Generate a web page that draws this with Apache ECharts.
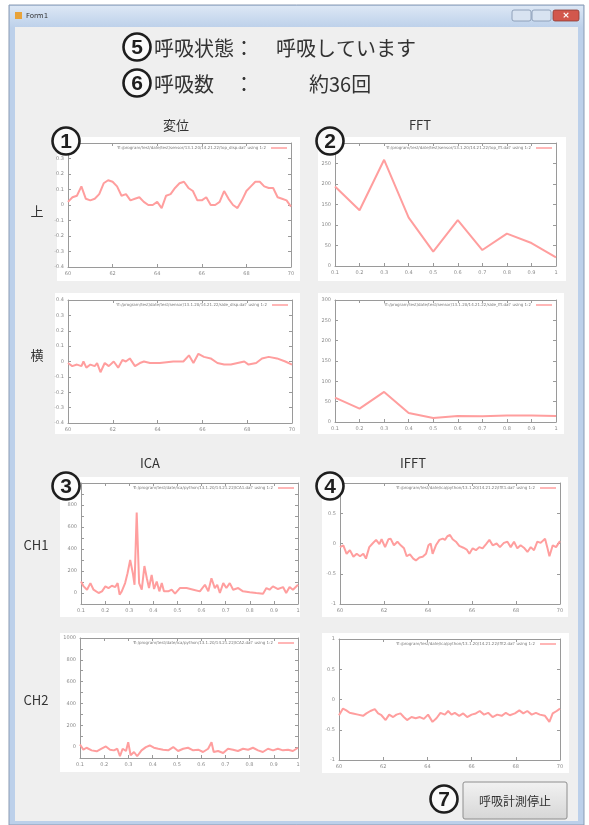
<!DOCTYPE html>
<html>
<head>
<meta charset="utf-8">
<script src="https://cdn.jsdelivr.net/npm/echarts@6/dist/echarts.min.js"></script>
<style>
	html, body { margin: 0; padding: 0; background: #fff; }
	#main { width: 589px; height: 825px; }
</style>
</head>
<body>
<div id="main"></div>
<script>
// 变位 上 (time, displacement)
const up_disp = [
	[60.0, 0.02], [60.2, 0.05], [60.4, 0.06], [60.6, 0.12], [60.8, 0.04], [61.0, 0.03], [61.2, 0.04], [61.4, 0.07],
	[61.6, 0.14], [61.8, 0.16], [62.0, 0.15], [62.2, 0.12], [62.4, 0.06], [62.6, 0.07], [62.8, 0.03], [63.0, 0.04],
	[63.2, 0.05], [63.4, 0.02], [63.6, 0.0], [63.8, 0.0], [64.0, 0.02], [64.2, -0.02], [64.4, 0.06], [64.6, 0.07],
	[64.8, 0.11], [65.0, 0.14], [65.2, 0.15], [65.4, 0.11], [65.6, 0.09], [65.8, 0.03], [66.0, 0.03], [66.2, 0.05],
	[66.4, 0.0], [66.6, 0.0], [66.8, 0.02], [67.0, 0.09], [67.2, 0.04], [67.4, 0.0], [67.6, -0.02], [67.8, 0.03],
	[68.0, 0.09], [68.2, 0.12], [68.4, 0.15], [68.6, 0.15], [68.8, 0.12], [69.0, 0.11], [69.2, 0.11], [69.4, 0.05],
	[69.6, 0.04], [69.8, 0.03], [70.0, -0.01],
];
// 变位 横
const side_disp = [
	[60.0, -0.01], [60.19, -0.03], [60.4, -0.02], [60.6, -0.03], [60.69, 0.0], [60.82, -0.04], [61.0, -0.02],
	[61.19, -0.03], [61.3, -0.01], [61.45, -0.07], [61.64, -0.01], [61.82, -0.03], [62.04, 0.0], [62.24, -0.04],
	[62.43, 0.01], [62.58, 0.0], [62.76, 0.02], [62.99, -0.03], [63.21, -0.01], [63.39, 0.0], [63.66, -0.01],
	[64.1, -0.01], [64.7, 0.0], [65.15, 0.0], [65.4, 0.04], [65.6, -0.01], [65.82, 0.05], [66.07, 0.03],
	[66.37, 0.02], [66.67, -0.01], [66.97, -0.02], [67.27, -0.02], [67.57, -0.01], [67.87, 0.0], [68.06, -0.02],
	[68.4, -0.01], [68.66, 0.02], [68.96, 0.03], [69.33, 0.02], [69.7, 0.0], [70.0, -0.02],
];
// FFT
const fft_freq = [0.1, 0.2, 0.3, 0.4, 0.5, 0.6, 0.7, 0.8, 0.9, 1.0];
const fft_up = [194, 136, 259, 118, 35, 112, 39, 79, 56, 21];
const fft_side = [60, 33, 74, 22, 10, 15, 14, 16, 16, 15];
// ICA CH1 / CH2
const ica_ch1 = [
	[0.1, 104], [0.111, 60], [0.125, 30], [0.139, 90], [0.152, 30], [0.173, 0], [0.187, 15], [0.201, 60],
	[0.214, 45], [0.228, 66], [0.242, 54], [0.252, 90], [0.26, -15], [0.269, 15], [0.283, 90], [0.293, 180],
	[0.304, 300], [0.315, 180], [0.322, 75], [0.331, 731], [0.341, 90], [0.352, 30], [0.363, 245], [0.373, 134],
	[0.382, 45], [0.393, 164], [0.403, 36], [0.414, 104], [0.425, 15], [0.435, 90], [0.444, 15], [0.462, 15],
	[0.476, 30], [0.49, -6], [0.51, 45], [0.538, 45], [0.566, 30], [0.593, 15], [0.614, 75], [0.628, 15],
	[0.641, 134], [0.655, 45], [0.665, 75], [0.676, 0], [0.69, 90], [0.703, 45], [0.717, 90], [0.731, 30],
	[0.752, 45], [0.772, 15], [0.8, 6], [0.827, 0], [0.855, -6], [0.869, 45], [0.882, 30], [0.896, 60],
	[0.917, 36], [0.938, 54], [0.951, 0], [0.965, 54], [0.979, 30], [1.0, 75],
];
const ica_ch2 = [
	[0.1, 24], [0.114, -24], [0.127, -6], [0.148, -30], [0.169, -39], [0.189, -15], [0.207, 6], [0.224, -24],
	[0.24, -30], [0.254, -15], [0.265, -84], [0.276, -15], [0.29, -36], [0.299, 45], [0.309, -75], [0.323, -45],
	[0.336, -84], [0.354, -30], [0.372, 0], [0.388, 15], [0.405, -6], [0.423, -15], [0.443, -24], [0.464, -30],
	[0.485, 0], [0.505, -36], [0.526, -15], [0.546, -6], [0.567, -30], [0.588, -24], [0.608, -45], [0.629, -15],
	[0.643, 45], [0.652, -45], [0.67, -36], [0.691, -54], [0.711, -15], [0.732, -24], [0.752, -36], [0.773, -15],
	[0.794, -24], [0.814, -6], [0.835, -30], [0.855, -45], [0.876, -15], [0.897, -30], [0.917, -15], [0.938, -30],
	[0.959, -24], [0.979, -36], [1.0, -6],
];
// IFFT CH1 / CH2
const ifft_ch1 = [
	[60.0, -0.06], [60.15, -0.03], [60.3, -0.17], [60.45, -0.11], [60.61, -0.22], [60.76, -0.17], [60.91, -0.21],
	[61.06, -0.17], [61.18, -0.25], [61.33, -0.06], [61.48, 0.0], [61.64, 0.06], [61.79, -0.01], [61.89, 0.07],
	[62.05, -0.06], [62.2, 0.07], [62.3, 0.08], [62.45, -0.03], [62.61, 0.03], [62.76, -0.03], [62.91, -0.08],
	[63.03, -0.21], [63.18, -0.18], [63.33, -0.25], [63.45, -0.28], [63.61, -0.23], [63.76, -0.22], [63.91, -0.17],
	[64.02, -0.03], [64.12, 0.0], [64.21, -0.17], [64.36, -0.03], [64.52, 0.06], [64.67, 0.08], [64.77, 0.06],
	[64.88, 0.12], [65.0, 0.14], [65.12, 0.07], [65.27, 0.03], [65.42, -0.04], [65.61, -0.07], [65.76, -0.1],
	[65.88, -0.17], [66.03, -0.08], [66.18, -0.11], [66.33, -0.06], [66.48, -0.08], [66.64, -0.01], [66.79, 0.06],
	[66.94, -0.03], [67.12, 0.0], [67.27, -0.06], [67.45, 0.01], [67.61, 0.03], [67.76, -0.06], [67.91, 0.03],
	[68.06, -0.08], [68.21, -0.03], [68.36, -0.07], [68.52, -0.14], [68.67, -0.06], [68.82, -0.11], [68.97, 0.03],
	[69.12, 0.01], [69.32, 0.08], [69.42, -0.06], [69.52, -0.21], [69.67, -0.03], [69.82, -0.06], [70.0, 0.04],
];
const ifft_ch2 = [
	[60.0, -0.26], [60.18, -0.15], [60.33, -0.18], [60.48, -0.22], [60.63, -0.23], [60.86, -0.25], [61.09, -0.27],
	[61.24, -0.23], [61.42, -0.19], [61.62, -0.16], [61.77, -0.23], [61.92, -0.26], [62.11, -0.34], [62.27, -0.25],
	[62.45, -0.29], [62.6, -0.25], [62.78, -0.23], [62.93, -0.29], [63.08, -0.34], [63.28, -0.29], [63.47, -0.31],
	[63.66, -0.29], [63.84, -0.32], [64.03, -0.25], [64.23, -0.37], [64.41, -0.31], [64.59, -0.22], [64.79, -0.25],
	[64.94, -0.19], [65.09, -0.25], [65.24, -0.22], [65.44, -0.27], [65.62, -0.23], [65.8, -0.29], [66.0, -0.25],
	[66.19, -0.23], [66.37, -0.19], [66.56, -0.25], [66.75, -0.22], [66.95, -0.29], [67.16, -0.25], [67.36, -0.27],
	[67.55, -0.22], [67.73, -0.26], [67.96, -0.23], [68.16, -0.18], [68.34, -0.23], [68.52, -0.19], [68.72, -0.25],
	[68.91, -0.22], [69.09, -0.25], [69.32, -0.27], [69.52, -0.37], [69.67, -0.23], [69.85, -0.19], [70.0, -0.15],
];
// 凡例（gnuplot のファイル名）
const legend_names = [
	"'E:/program/test/date/test/sensor/13.1.20/14.21.22/top_disp.dat' using 1:2",
	"'E:/program/test/date/test/sensor/13.1.20/14.21.22/top_fft.dat' using 1:2",
	"'E:/program/test/date/test/sensor/13.1.20/14.21.22/side_disp.dat' using 1:2",
	"'E:/program/test/date/test/sensor/13.1.20/14.21.22/side_fft.dat' using 1:2",
	"'E:/program/test/date/ica/python/13.1.20/14.21.22/ICA1.dat' using 1:2",
	"'E:/program/test/date/ica/python/13.1.20/14.21.22/ifft1.dat' using 1:2",
	"'E:/program/test/date/ica/python/13.1.20/14.21.22/ICA2.dat' using 1:2",
	"'E:/program/test/date/ica/python/13.1.20/14.21.22/ifft2.dat' using 1:2",
];

let chart = echarts.init(document.getElementById('main'));

// 各グラフの配置 [left, top, width, height]
let grids_pos = [
	[68, 143, 223, 124],
	[335, 143, 221, 123],
	[68, 300, 224, 123],
	[335, 300, 221, 122],
	[81, 483, 217, 121],
	[340, 483, 220, 121],
	[80, 638, 218, 120],
	[339, 639, 221, 121],
];
// 白いパネル
let panels = [
	[57, 137, 243, 144],
	[318, 137, 248, 144],
	[55, 293, 245, 141],
	[318, 293, 246, 141],
	[60, 477, 240, 140],
	[322, 477, 246, 140],
	[60, 633, 240, 139],
	[322, 633, 247, 140],
];
// 軸の範囲 [xmin, xmax, xint, ymin, ymax, yint, ystep(表示)]
let ranges = [
	[60, 70, 2, -0.4, 0.4, 0.1, 0],
	[0.1, 1, 0.1, 0, 300, 50, 0],
	[60, 70, 2, -0.4, 0.4, 0.1, 0],
	[0.1, 1, 0.1, 0, 300, 50, 0],
	[0.1, 1, 0.1, -100, 1000, 100, 200],
	[60, 70, 2, -1, 1, 0.5, 0],
	[0.1, 1, 0.1, -100, 1000, 100, 200],
	[60, 70, 2, -1, 1, 0.5, 0],
];
let series_data = [
	up_disp,
	fft_freq.map((f, i) => [f, fft_up[i]]),
	side_disp,
	fft_freq.map((f, i) => [f, fft_side[i]]),
	ica_ch1,
	ifft_ch1,
	ica_ch2,
	ifft_ch2,
];

let axis_color = '#9a9a9a';
let label_style = { fontSize: 5, color: '#8a8a8a', fontFamily: 'DejaVu Sans' };
let grid = [], xAxis = [], yAxis = [], series = [], legend = [];
grids_pos.forEach((p, i) => {
	let r = ranges[i];
	grid.push({ left: p[0], top: p[1], width: p[2], height: p[3], show: false });
	let base = {
		gridIndex: i,
		type: 'value',
		axisLine: { show: true, onZero: false, lineStyle: { color: axis_color, width: 1 } },
		axisTick: { show: true, inside: true, length: 3, lineStyle: { color: axis_color } },
		splitLine: { show: false },
	};
	xAxis.push(Object.assign({}, base, {
		min: r[0], max: r[1], interval: r[2], position: 'bottom',
		axisLabel: { ...label_style, margin: 4, formatter: (v) => +v.toFixed(1) + '' },
	}));
	xAxis.push(Object.assign({}, base, {
		min: r[0], max: r[1], interval: r[2], position: 'top',
		axisLabel: { show: false },
	}));
	yAxis.push(Object.assign({}, base, {
		min: r[3], max: r[4], interval: r[5], position: 'left',
		axisLabel: {
			...label_style, margin: 4,
			formatter: (v) => {
				if (r[6] && Math.round(v) % r[6] !== 0) return '';
				return +v.toFixed(1) + '';
			},
		},
	}));
	yAxis.push(Object.assign({}, base, {
		min: r[3], max: r[4], interval: r[5], position: 'right',
		axisLabel: { show: false },
	}));
	series.push({
		name: legend_names[i],
		type: 'line',
		xAxisIndex: i * 2,
		yAxisIndex: i * 2,
		data: series_data[i],
		showSymbol: false,
		symbol: 'none',
		lineStyle: { color: '#ff9e9e', width: 2 },
		itemStyle: { color: '#ff9e9e' },
		animation: false,
	});
	legend.push({
		data: [legend_names[i]],
		right: 589 - (p[0] + p[2]) + 4,
		top: p[1] + 3,
		align: 'right',
		icon: 'rect',
		itemWidth: 16,
		itemHeight: 1.5,
		itemGap: 2,
		padding: 0,
		textStyle: { fontSize: 4, color: '#777', fontFamily: 'DejaVu Sans', padding: [0, 0, 0, 0] },
		selectedMode: false,
	});
});

// 丸数字
function circle_num(n, cx, cy) {
	return [
		{ type: 'circle', shape: { cx: cx, cy: cy, r: 13.5 }, style: { fill: '#fafafa', stroke: '#1e1e1e', lineWidth: 2.6 }, z: 50 },
		{
			type: 'text', x: cx, y: cy + 1, z: 51,
			style: { text: n, font: 'bold 21px "Liberation Sans"', fill: '#1e1e1e', align: 'center', verticalAlign: 'middle' },
		},
	];
}
function label(text, x, y, size, align) {
	return {
		type: 'text', x: x, y: y, z: 50,
		style: { text: text, font: size + 'px "Noto Sans CJK JP"', fill: '#333', align: align || 'center', verticalAlign: 'middle' },
	};
}

let graphic = [
	// ウィンドウ枠
	{ type: 'rect', shape: { x: 9, y: 5, width: 575, height: 820 }, style: { fill: '#bcd0ea', stroke: '#8a9bb3', lineWidth: 1 }, z: -30 },
	{
		type: 'rect', shape: { x: 10, y: 6, width: 573, height: 22 }, z: -29,
		style: { fill: new echarts.graphic.LinearGradient(0, 0, 0, 1, [{ offset: 0, color: '#dce7f5' }, { offset: 1, color: '#bcd0ea' }]) },
	},
	{ type: 'rect', shape: { x: 15, y: 27, width: 563, height: 794 }, style: { fill: '#efefef' }, z: -28 },
	{ type: 'rect', shape: { x: 15, y: 12, width: 7, height: 7 }, style: { fill: '#e8a33a' }, z: -20 },
	{ type: 'text', x: 26, y: 16, z: -20, style: { text: 'Form1', font: '7px "DejaVu Sans"', fill: '#333', verticalAlign: 'middle' } },
	{ type: 'rect', shape: { x: 512, y: 10, width: 19, height: 11, r: 2 }, style: { fill: '#d8e3f1', stroke: '#8093ad', lineWidth: 0.8 }, z: -20 },
	{ type: 'rect', shape: { x: 532, y: 10, width: 19, height: 11, r: 2 }, style: { fill: '#d8e3f1', stroke: '#8093ad', lineWidth: 0.8 }, z: -20 },
	{ type: 'rect', shape: { x: 553, y: 10, width: 26, height: 11, r: 2 }, style: { fill: '#d2574c', stroke: '#8a3a33', lineWidth: 0.8 }, z: -20 },
	{ type: 'text', x: 566, y: 15.5, z: -19, style: { text: '×', font: 'bold 9px "DejaVu Sans"', fill: '#fff', align: 'center', verticalAlign: 'middle' } },
];
panels.forEach((p) => {
	graphic.push({ type: 'rect', shape: { x: p[0], y: p[1], width: p[2], height: p[3] }, style: { fill: '#ffffff' }, z: -10 });
});
graphic.push(
	...circle_num('5', 137, 47),
	label('呼吸状態：', 154, 48, 20, 'left'),
	label('呼吸しています', 276, 48, 20, 'left'),
	...circle_num('6', 137, 83),
	label('呼吸数', 154, 84, 20, 'left'),
	label('：', 234, 84, 20, 'left'),
	label('約36回', 309, 84, 20, 'left'),
	label('変位', 176, 125, 13),
	label('FFT', 420, 125, 13),
	label('ICA', 150, 463, 13),
	label('IFFT', 413, 463, 13),
	label('上', 37, 211, 13),
	label('横', 37, 355, 13),
	label('CH1', 36, 545, 13),
	label('CH2', 36, 700, 13),
	...circle_num('1', 66, 141),
	...circle_num('2', 330, 141),
	...circle_num('3', 66, 486),
	...circle_num('4', 330, 486),
	...circle_num('7', 444, 799),
	// 停止ボタン
	{
		type: 'rect', shape: { x: 463, y: 782, width: 104, height: 37, r: 2 }, z: 40,
		style: {
			fill: new echarts.graphic.LinearGradient(0, 0, 0, 1, [{ offset: 0, color: '#f2f2f2' }, { offset: 1, color: '#d6d6d6' }]),
			stroke: '#8e8e8e', lineWidth: 1,
		},
	},
	label('呼吸計測停止', 515, 801, 12)
);

chart.setOption({
	animation: false,
	grid: grid,
	xAxis: xAxis,
	yAxis: yAxis,
	legend: legend,
	series: series,
	graphic: graphic,
});
</script>
</body>
</html>
